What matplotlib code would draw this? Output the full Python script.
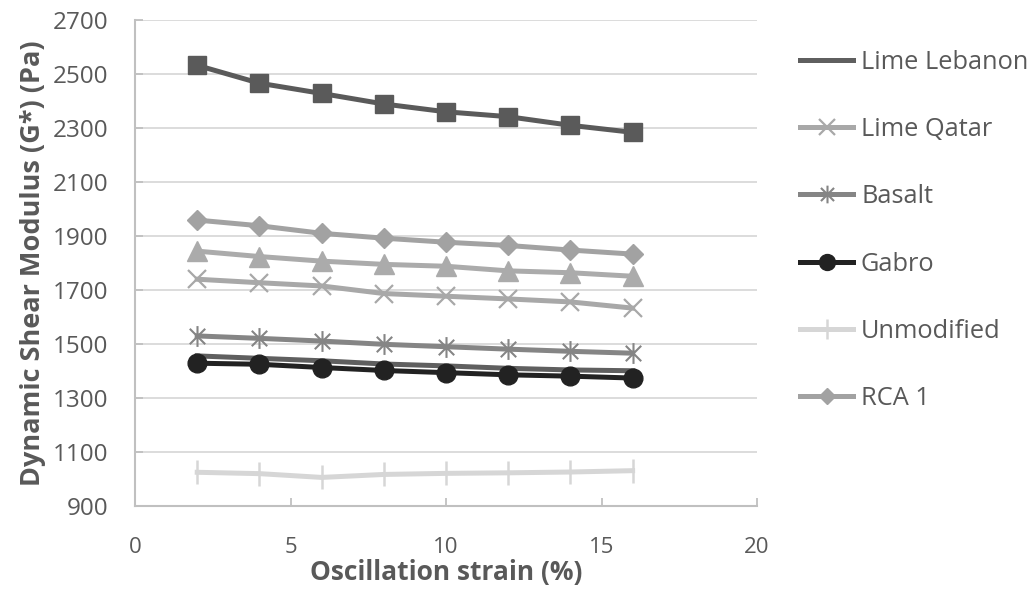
import matplotlib.pyplot as plt
from matplotlib.path import Path

plt.rcParams['font.family'] = ['Open Sans', 'DejaVu Sans']

# --- Data ---
strain = [2, 4, 6, 8, 10, 12, 14, 16]

lime_lebanon = [1457, 1448, 1439, 1427, 1420, 1411, 1405, 1402]
lime_qatar = [1741, 1728, 1716, 1688, 1678, 1668, 1657, 1634]
basalt = [1531, 1522, 1512, 1500, 1491, 1482, 1474, 1467]
gabro = [1430, 1426, 1414, 1403, 1395, 1387, 1382, 1375]
unmodified = [1026, 1021, 1007, 1018, 1022, 1024, 1027, 1032]
rca_1 = [1960, 1939, 1911, 1893, 1878, 1866, 1849, 1834]
series_triangles = [1845, 1825, 1808, 1796, 1789, 1772, 1765, 1752]
series_squares = [2533, 2467, 2429, 2390, 2361, 2343, 2311, 2285]

y_ticks = [900, 1100, 1300, 1500, 1700, 1900, 2100, 2300, 2500, 2700]
x_ticks = [0, 5, 10, 15, 20]

TEXT_COLOR = "#595959"

# Excel-style asterisk: an x with a vertical bar
asterisk = Path(
    [(-1, -1), (1, 1), (-1, 1), (1, -1), (0, -1.35), (0, 1.35)],
    [Path.MOVETO, Path.LINETO, Path.MOVETO, Path.LINETO, Path.MOVETO, Path.LINETO],
)

fig = plt.figure(figsize=(10.34, 5.91), dpi=100)
ax = fig.add_axes([0.1306, 0.1433, 0.6015, 0.8224])

lw = 3.6
ax.plot(strain, lime_lebanon, color="#5f5f5f", lw=lw, label="Lime Lebanon", zorder=3)
ax.plot(strain, lime_qatar, color="#a8a8a8", lw=lw, marker="x", ms=13, mew=1.6,
        label="Lime Qatar", zorder=3)
ax.plot(strain, basalt, color="#858585", lw=lw, marker=asterisk, ms=15, mew=1.5,
        label="Basalt", zorder=3)
ax.plot(strain, gabro, color="#222222", lw=lw, marker="o", ms=13.5, label="Gabro", zorder=4)
ax.plot(strain, unmodified, color="#d6d6d6", lw=lw, marker="|", ms=17, mew=1.8,
        label="Unmodified", zorder=3)
ax.plot(strain, rca_1, color="#a2a2a2", lw=lw, marker="D", ms=10, label="RCA 1", zorder=3)
ax.plot(strain, series_triangles, color="#ababab", lw=lw, marker="^", ms=14,
        label="_nolegend_", zorder=3)
ax.plot(strain, series_squares, color="#5a5a5a", lw=lw, marker="s", ms=13,
        label="_nolegend_", zorder=3)

ax.set_xlim(0, 20)
ax.set_ylim(900, 2700)
ax.set_xticks(x_ticks)
ax.set_yticks(y_ticks)
ax.yaxis.grid(True, color="#d9d9d9", lw=1.3, zorder=0)
ax.set_axisbelow(True)

for side in ["top", "right"]:
    ax.spines[side].set_visible(False)
for side in ["left", "bottom"]:
    ax.spines[side].set_color("#c0c0c0")
    ax.spines[side].set_linewidth(1.5)

ax.tick_params(axis="y", direction="in", length=6, color="#c0c0c0", width=1.3,
               labelsize=17.5, labelcolor=TEXT_COLOR, pad=19)
ax.tick_params(axis="x", direction="in", length=6, color="#c0c0c0", width=1.3,
               labelsize=16, labelcolor=TEXT_COLOR, pad=22)

ax.set_xlabel("Oscillation strain (%)", fontsize=19, fontweight="bold",
              color=TEXT_COLOR, labelpad=1)
ax.set_ylabel("Dynamic Shear Modulus (G*) (Pa)", fontsize=19.5, fontweight="bold",
              color=TEXT_COLOR, labelpad=5)

leg = ax.legend(loc="upper left", bbox_to_anchor=(800 / 1034, 1 - 50 / 591),
                bbox_transform=fig.transFigure, frameon=False, fontsize=18.3,
                handlelength=2.1, handletextpad=0.3, labelspacing=1.66,
                borderpad=0, borderaxespad=0, markerscale=0.85)
for text in leg.get_texts():
    text.set_color(TEXT_COLOR)

fig.savefig("out.png", dpi=100)
